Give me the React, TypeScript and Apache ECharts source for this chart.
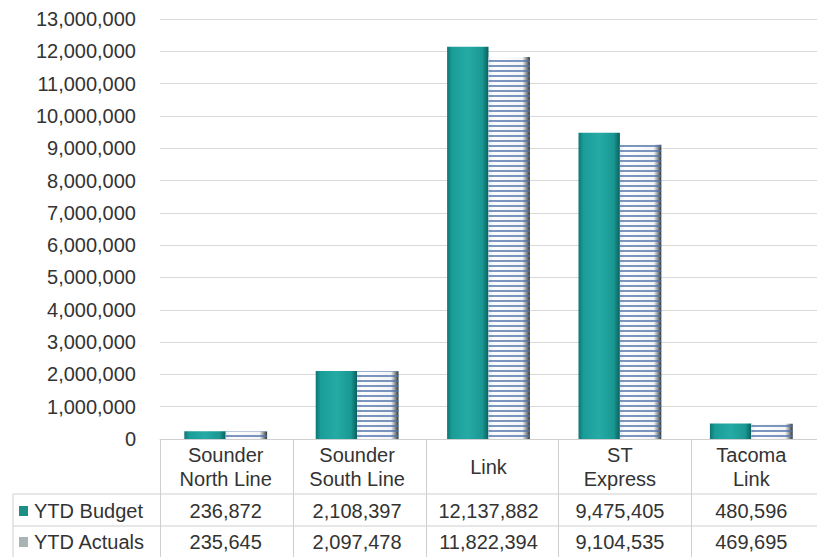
import React, { useEffect, useRef } from "react";
import * as echarts from "echarts";

const categories = ["Sounder\nNorth Line", "Sounder\nSouth Line", "Link", "ST\nExpress", "Tacoma\nLink"];
const budgetValues = [236872, 2108397, 12137882, 9475405, 480596];
const actualValues = [235645, 2097478, 11822394, 9104535, 469695];
const seriesNames = ["YTD Budget", "YTD Actuals"];
const yMax = 13000000;
const yInterval = 1000000;

const fmt = (v: number) => v.toLocaleString("en-US");

export default function App() {
  const ref = useRef<HTMLDivElement>(null);
  useEffect(() => {
    if (!ref.current) return;
    const chart = echarts.init(ref.current, null, { renderer: "svg" });
    const W = 817;
    const H = 557;
    const gridLeft = 160;
    const gridTop = 19;
    const gridH = 420;
    const colW = 132.75;
    const gridW = colW * categories.length;
    const baseY = gridTop + gridH;
    const row1 = 494;
    const row2 = 526;
    const lineColor = "#cfcfcf";
    const font = "'Liberation Sans', Arial, sans-serif";
    const textColor = "#333";

    const graphics: any[] = [];
    const addLine = (x1: number, y1: number, x2: number, y2: number) =>
      graphics.push({
        type: "line",
        shape: { x1, y1, x2, y2 },
        style: { stroke: lineColor, lineWidth: 1 },
        silent: true,
      });
    addLine(13, row1, W, row1);
    addLine(13, row2, W, row2);
    addLine(13, row1, 13, H);
    for (let i = 0; i <= categories.length; i++) {
      const x = Math.round(gridLeft + i * colW) + 0.5;
      addLine(x, baseY, x, H);
    }

    chart.setOption({
      animation: false,
      textStyle: { fontFamily: font },
      grid: { left: gridLeft, top: gridTop, width: gridW, height: gridH, containLabel: false },
      legend: {
        orient: "vertical",
        left: 19,
        top: 501,
        padding: 0,
        itemGap: 11,
        itemWidth: 9,
        itemHeight: 10,
        textStyle: { fontSize: 20, color: textColor, fontFamily: font, padding: [0, 0, 0, 1] },
        data: [
          { name: seriesNames[0], icon: "rect", itemStyle: { color: "#1b8f86", decal: "none" } },
          { name: seriesNames[1], icon: "rect", itemStyle: { color: "#a9b4b4", decal: "none" } },
        ],
      },
      xAxis: [
        {
          type: "category",
          data: categories,
          axisLine: { show: true, lineStyle: { color: lineColor } },
          axisTick: { show: false },
          axisLabel: {
            fontSize: 20,
            color: textColor,
            lineHeight: 24,
            verticalAlign: "middle",
            margin: 28,
            fontFamily: font,
          },
        },
        {
          type: "category",
          position: "bottom",
          offset: 0,
          data: budgetValues.map(fmt),
          axisLine: { show: false },
          axisTick: { show: false },
          axisLabel: { fontSize: 20, color: textColor, verticalAlign: "middle", margin: 72, fontFamily: font },
        },
        {
          type: "category",
          position: "bottom",
          offset: 0,
          data: actualValues.map(fmt),
          axisLine: { show: false },
          axisTick: { show: false },
          axisLabel: { fontSize: 20, color: textColor, verticalAlign: "middle", margin: 103, fontFamily: font },
        },
      ],
      yAxis: {
        type: "value",
        min: 0,
        max: yMax,
        interval: yInterval,
        axisLine: { show: false },
        axisTick: { show: false },
        splitLine: { lineStyle: { color: "#d9d9d9" } },
        axisLabel: { fontSize: 20, color: textColor, margin: 24, formatter: (v: number) => fmt(v), fontFamily: font },
      },
      series: [
        {
          name: seriesNames[0],
          type: "bar",
          data: budgetValues,
          barGap: "0%",
          barCategoryGap: "37%",
          itemStyle: {
            color: {
              type: "linear",
              x: 0,
              y: 0,
              x2: 1,
              y2: 0,
              colorStops: [
                { offset: 0, color: "#0e7673" },
                { offset: 0.12, color: "#1a9d98" },
                { offset: 0.5, color: "#25aaa5" },
                { offset: 0.85, color: "#1a9893" },
                { offset: 1, color: "#0a5f5d" },
              ],
            },
          },
        },
        {
          name: seriesNames[1],
          type: "bar",
          data: actualValues,
          itemStyle: {
            color: {
              type: "linear",
              x: 0,
              y: 0,
              x2: 1,
              y2: 0,
              colorStops: [
                { offset: 0, color: "#e6ecf2" },
                { offset: 0.12, color: "#ffffff" },
                { offset: 0.82, color: "#f2f4f6" },
                { offset: 0.92, color: "#8a9090" },
                { offset: 1, color: "#2e3333" },
              ],
            },
            decal: {
              symbol: "rect",
              symbolSize: 1,
              color: "rgba(80,115,170,0.75)",
              dashArrayX: [1, 0],
              dashArrayY: [2, 3],
              rotation: 0,
            },
          },
        },
      ],
      graphic: graphics,
    });
    return () => chart.dispose();
  }, []);
  return <div ref={ref} style={{ position: "absolute", left: 0, top: 0, width: 817, height: 557 }} />;
}
